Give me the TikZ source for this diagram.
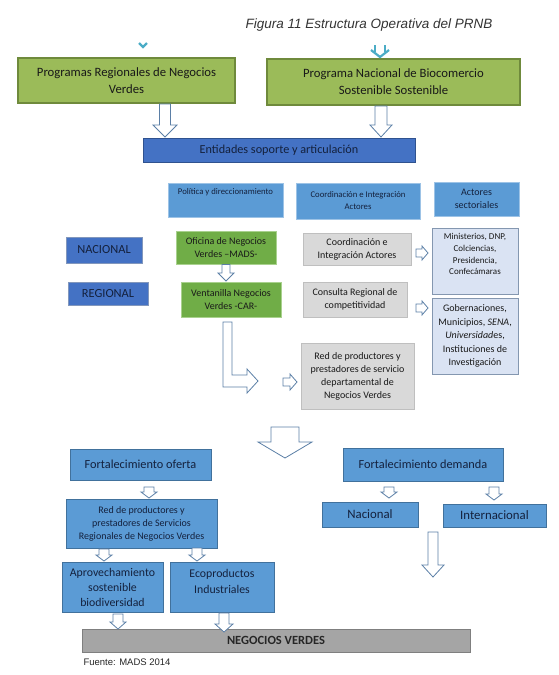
\documentclass[tikz,border=0pt]{standalone}
\usepackage{fontspec}
\setmainfont{Carlito}
\newfontfamily\arialfont{Liberation Sans}
\usetikzlibrary{positioning, calc}

\definecolor{olivefill}{HTML}{9BBB59}
\definecolor{oliveline}{HTML}{6F8A3C}
\definecolor{grassfill}{HTML}{70AD47}
\definecolor{grassline}{HTML}{A9D18E}
\definecolor{darkblue}{HTML}{4472C4}
\definecolor{darkblueline}{HTML}{2F528F}
\definecolor{midblue}{HTML}{5B9BD5}
\definecolor{midblueline}{HTML}{41719C}
\definecolor{paleblue}{HTML}{DAE3F3}
\definecolor{paleline}{HTML}{8497B0}
\definecolor{lightgrey}{HTML}{D9D9D9}
\definecolor{lightgreyline}{HTML}{BFBFBF}
\definecolor{darkgrey}{HTML}{A5A5A5}
\definecolor{darkgreyline}{HTML}{7F7F7F}
\definecolor{navytext}{HTML}{14213D}
\definecolor{arrowline}{HTML}{5B7FA6}
\definecolor{tealmark}{HTML}{4BACC6}

\tikzset{
  box/.style={rectangle, inner sep=1pt, align=center},
  greenbox/.style={box, fill=olivefill, draw=oliveline, line width=2pt, text=black!90,
    font=\fontsize{12.7}{17}\selectfont},
  grassbox/.style={box, fill=grassfill, draw=grassline, line width=0.8pt, text=black!90,
    font=\fontsize{10}{13}\selectfont},
  entbox/.style={box, fill=darkblue, draw=darkblueline, line width=0.8pt, text=navytext,
    font=\fontsize{12.2}{14}\selectfont},
  levelbox/.style={box, fill=darkblue, draw=darkblueline!60, line width=0.8pt, text=navytext,
    font=\fontsize{12.4}{14}\selectfont},
  headbox/.style={box, fill=midblue, draw=midblue!60, line width=0.8pt, text=navytext},
  greybox/.style={box, fill=lightgrey, draw=lightgreyline, line width=0.8pt, text=black!90,
    font=\fontsize{10}{13}\selectfont},
  palebox/.style={box, fill=paleblue, draw=paleline, line width=0.8pt, text=black!90},
  lowbox/.style={box, fill=midblue, draw=midblueline, line width=0.8pt, text=navytext},
  blockarrow/.style={draw=arrowline, fill=white, line width=0.8pt, line join=miter},
  chevron/.style={draw=tealmark, line width=2.2pt}
}

% hollow block arrows: x, y top, y tip, shaft half, head half, head length
\newcommand{\downblock}[6]{%
  \draw[blockarrow] ({#1-#4},#2) -- ({#1+#4},#2) -- ({#1+#4},{#3-#6}) -- ({#1+#5},{#3-#6})
    -- (#1,#3) -- ({#1-#5},{#3-#6}) -- ({#1-#4},{#3-#6}) -- cycle;}
% x left, x tip, y, shaft half, head half, head length
\newcommand{\rightblock}[6]{%
  \draw[blockarrow] (#1,{#3-#4}) -- ({#2-#6},{#3-#4}) -- ({#2-#6},{#3-#5}) -- (#2,#3)
    -- ({#2-#6},{#3+#5}) -- ({#2-#6},{#3+#4}) -- (#1,{#3+#4}) -- cycle;}

\begin{document}
\begin{tikzpicture}[x=1pt,y=-1pt]
    \useasboundingbox (0,0) rectangle (559,675);

    \node[font=\arialfont\itshape\fontsize{13.5}{15}\selectfont, text=black!80] at (369,25) (title){Figura 11 Estructura Operativa del PRNB};

    % top level
    \node[greenbox, minimum width=217, minimum height=45] at (126.5,80.5) (regionales){Programas Regionales de Negocios\\Verdes};
    \node[greenbox, minimum width=253, minimum height=46] at (393.5,82) (biocomercio){Programa Nacional de Biocomercio\\Sostenible Sostenible};
    \node[entbox, minimum width=272, minimum height=24] at (279,150) (entidades){Entidades soporte y articulación};

    % column heads
    \node[headbox, minimum width=115, minimum height=34, font=\fontsize{8.7}{10}\selectfont] at (225.5,200) (politica){Política y direccionamiento\\[8pt]};
    \node[headbox, minimum width=124, minimum height=36, font=\fontsize{8.7}{12}\selectfont] at (358,201) (coordinacion){Coordinación e Integración\\Actores};
    \node[headbox, minimum width=85, minimum height=34, font=\fontsize{10}{13}\selectfont] at (476.5,199) (actores){Actores\\sectoriales};

    % levels
    \node[levelbox, minimum width=76, minimum height=26] at (104,250) (nacional){NACIONAL};
    \node[levelbox, minimum width=80, minimum height=23] at (108,293.5) (regional){REGIONAL};

    \node[grassbox, minimum width=100, minimum height=33] at (226,247.5) (oficina){Oficina de Negocios\\Verdes --MADS-};
    \node[grassbox, minimum width=100, minimum height=35] at (231,299.5) (ventanilla){Ventanilla Negocios\\Verdes -CAR-};

    \node[greybox, minimum width=108, minimum height=32] at (357,249) (integracion){Coordinación e\\Integración Actores};
    \node[greybox, minimum width=104, minimum height=35] at (355,299.5) (consulta){Consulta Regional de\\competitividad};
    \node[greybox, minimum width=113, minimum height=66] at (357.5,376) (reddep){Red de productores y\\prestadores de servicio\\departamental de\\Negocios Verdes};

    \node[palebox, minimum width=86, minimum height=66, font=\fontsize{9}{11.7}\selectfont] at (475,261) (ministerios){Ministerios, DNP,\\Colciencias,\\Presidencia,\\Confecámaras\\[2pt]};
    \node[palebox, minimum width=86, minimum height=76, font=\fontsize{10}{13.5}\selectfont] at (475,336) (gobernaciones){Gobernaciones,\\Municipios, \textit{SENA},\\\textit{Universidad}es,\\Instituciones de\\Investigación};

    % lower part
    \node[lowbox, minimum width=141, minimum height=31, font=\fontsize{12.3}{14}\selectfont] at (140.5,464.5) (oferta){Fortalecimiento oferta};
    \node[lowbox, minimum width=160, minimum height=33, font=\fontsize{12.3}{14}\selectfont] at (423,464.5) (demanda){Fortalecimiento demanda};
    \node[lowbox, minimum width=151, minimum height=49, font=\fontsize{10}{13}\selectfont] at (141.5,523.5) (redreg){Red de productores y\\prestadores de Servicios\\Regionales de Negocios Verdes};
    \node[lowbox, minimum width=101, minimum height=50, font=\fontsize{11.8}{15}\selectfont] at (112.5,587) (aprovechamiento){Aprovechamiento\\sostenible\\biodiversidad};
    \node[lowbox, minimum width=104, minimum height=50, font=\fontsize{11.8}{15.5}\selectfont] at (222,587) (ecoproductos){Ecoproductos\\Industriales\\[-4pt]};
    \node[lowbox, minimum width=96, minimum height=25, font=\fontsize{12.8}{14}\selectfont] at (370,514.5) (mercnal){Nacional};
    \node[lowbox, minimum width=103, minimum height=23, font=\fontsize{12.8}{14}\selectfont] at (494.5,515.5) (mercint){Internacional};

    \node[box, fill=darkgrey, draw=darkgreyline, line width=0.8pt, minimum width=388, minimum height=23, font=\bfseries\fontsize{12.5}{14}\selectfont, text=black!85] at (276,640.5) (negocios){NEGOCIOS VERDES};
    \node[anchor=west, font=\arialfont\fontsize{9.5}{11}\selectfont, text=black!85] at (80,662) (fuente){Fuente: MADS 2014};

    % marks from the page above
    \draw[chevron] (139,43) -- (143,47) -- (147,43);
    \draw[chevron] (375,45) -- (375,52);
    \draw[chevron] (385,45) -- (385,52);
    \draw[chevron] (371,50) -- (380,57) -- (389,50);

    % block arrows
    \downblock{165}{104}{137}{5.5}{12}{12}
    \downblock{381}{106}{137}{6}{11}{12}
    \downblock{226}{264.5}{281}{4}{8}{8}
    \rightblock{416}{428}{253}{4}{7}{6}
    \rightblock{416}{428}{308}{4}{7}{6}
    \draw[blockarrow] (223,322) -- (232,322) -- (232,375) -- (247,375) -- (247,369) -- (258,381)
      -- (247,393) -- (247,387) -- (223,387) -- cycle;
    \rightblock{283}{297}{382}{4}{8}{7}
    \downblock{285}{427}{458}{14}{27}{16}
    \downblock{149}{487}{498}{5}{8}{6}
    \downblock{104}{549}{561}{5}{8}{6}
    \downblock{197}{548}{561}{5}{8}{6}
    \downblock{118}{614}{629}{5}{8}{7}
    \downblock{224}{613}{632}{5}{9}{8}
    \downblock{389}{487}{498}{5}{8}{6}
    \downblock{494}{487}{500}{5}{8}{6}
    \downblock{433}{532}{577}{5}{11}{12}

\end{tikzpicture}
\end{document}
